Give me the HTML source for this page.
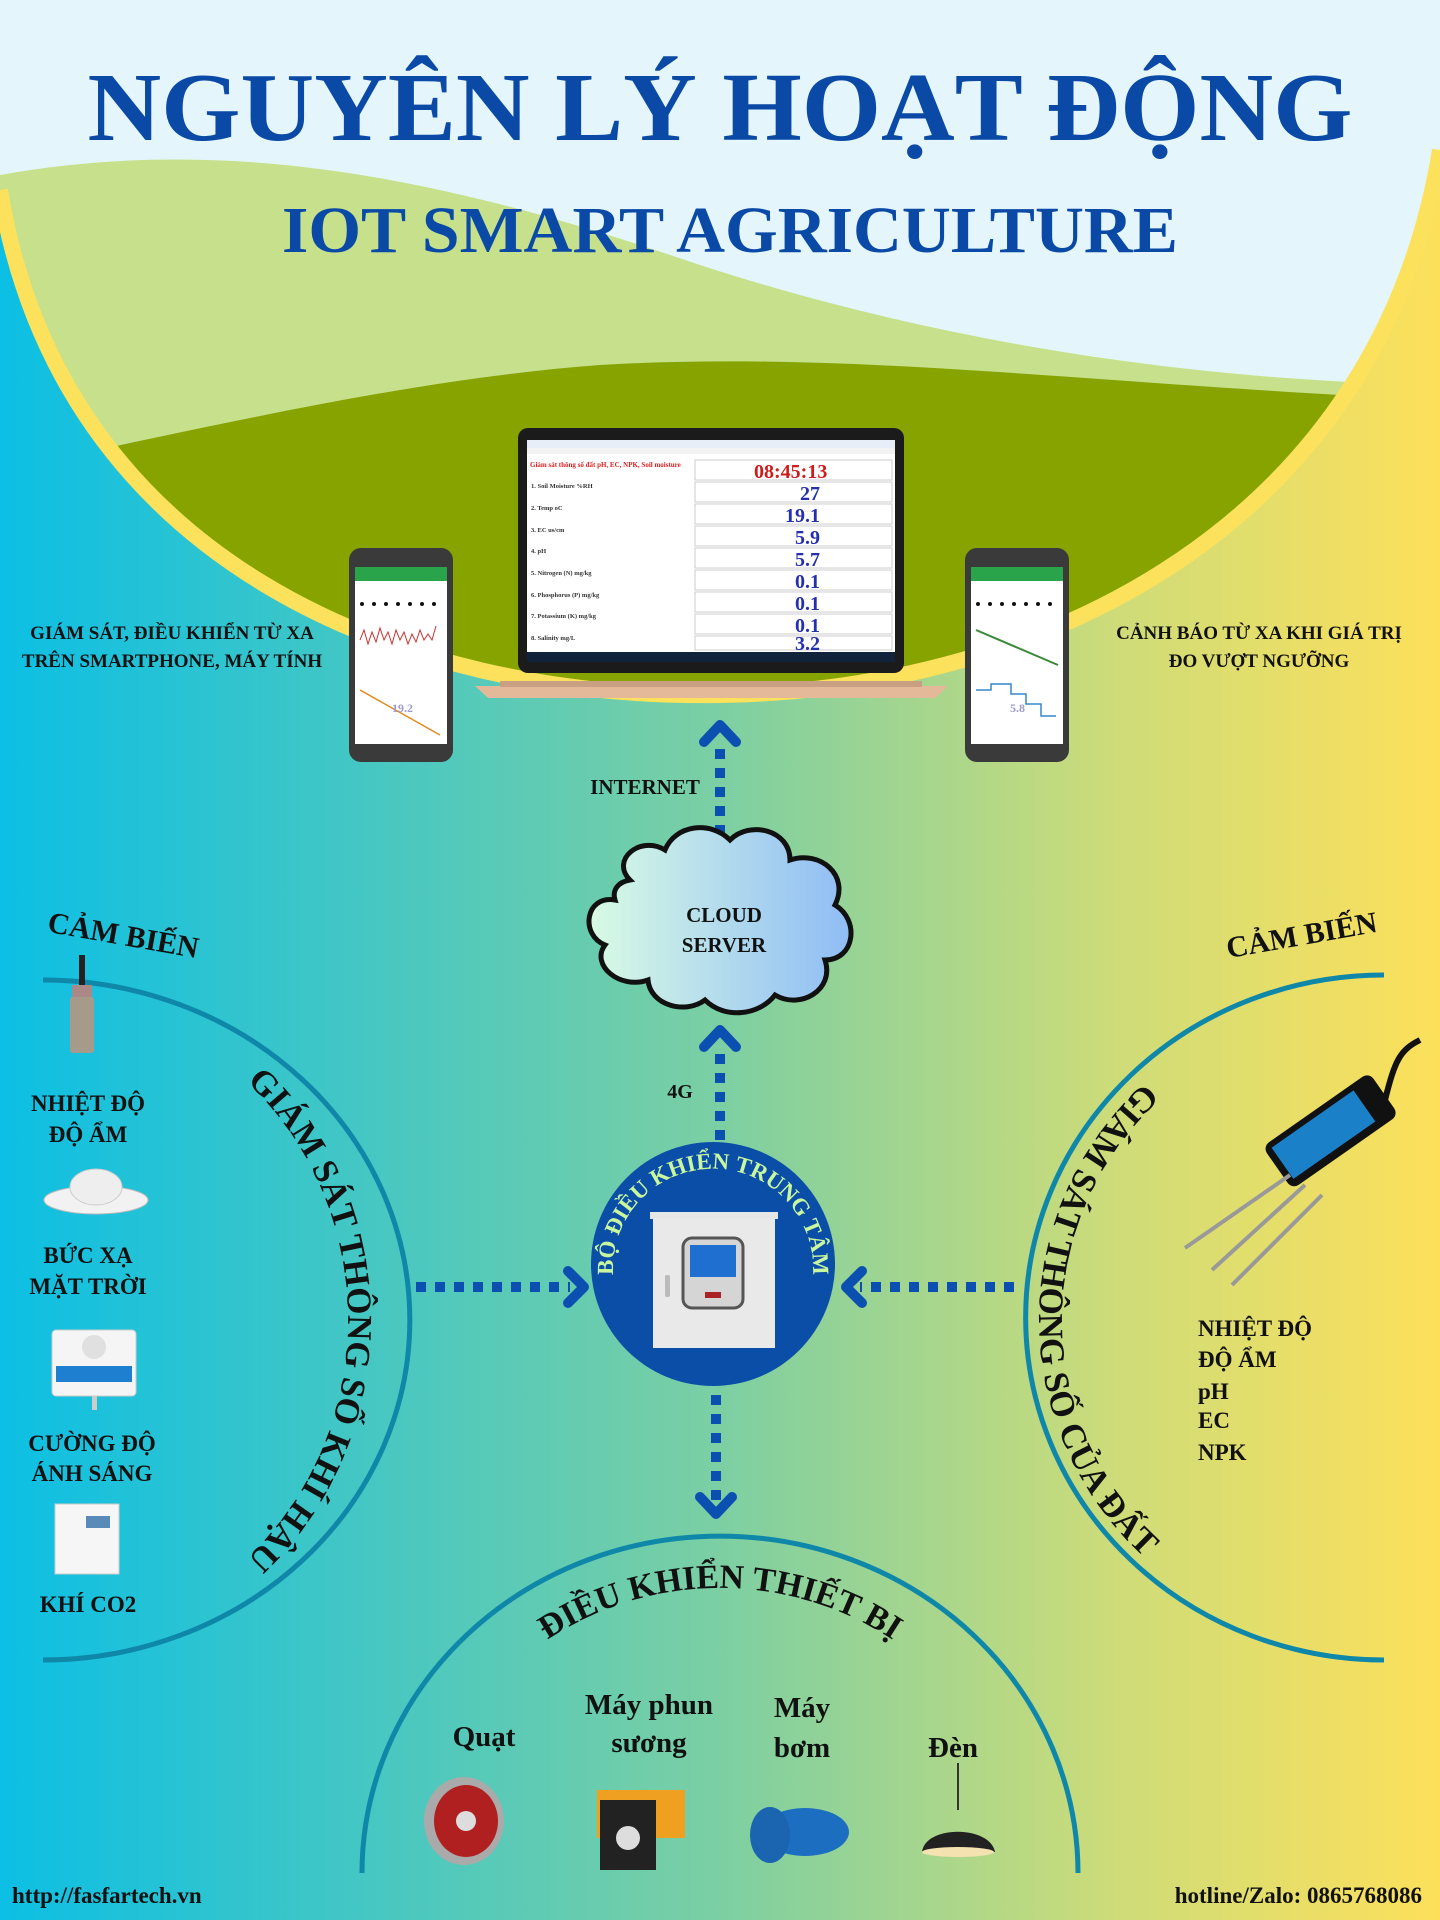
<!DOCTYPE html>
<html><head><meta charset="utf-8"><style>
html,body{margin:0;padding:0;width:1440px;height:1920px;overflow:hidden}
svg{display:block}
text{font-family:"Liberation Serif",serif;font-weight:bold}
</style></head><body>
<svg width="1440" height="1920" viewBox="0 0 1440 1920" xmlns="http://www.w3.org/2000/svg">
<defs>
<linearGradient id="bg" x1="0" y1="0" x2="1" y2="0">
<stop offset="0" stop-color="#0cbfe4"/><stop offset="0.5" stop-color="#7ccfa3"/><stop offset="0.78" stop-color="#cfdc78"/><stop offset="1" stop-color="#fde05a"/>
</linearGradient>
<linearGradient id="cl" x1="0" y1="0" x2="1" y2="0">
<stop offset="0" stop-color="#d8fbe4"/><stop offset="1" stop-color="#8fbcf5"/>
</linearGradient>
<clipPath id="sky"><path d="M0,0 H1440 V150 C1380,520 1050,690 720,695 C400,700 60,560 0,190 Z"/></clipPath>
</defs>
<rect width="1440" height="1920" fill="url(#bg)"/>
<g clip-path="url(#sky)">
<rect width="1440" height="720" fill="#e4f6fb"/>
<path d="M0,175 C250,130 480,190 700,265 C900,330 1150,380 1440,385 V720 H0Z" fill="#c6e08b"/>
<path d="M0,470 C200,430 400,380 600,365 C850,350 1100,385 1440,400 V720 H0Z" fill="#86a300"/>
</g>
<path d="M1440,150 C1380,520 1050,690 720,695 C400,700 60,560 0,190" fill="none" stroke="#fbe15c" stroke-width="16"/>

<text x="720" y="140" text-anchor="middle" font-size="98" fill="#0a4aa6" textLength="1265" lengthAdjust="spacingAndGlyphs">NGUYÊN LÝ HOẠT ĐỘNG</text>
<text x="730" y="252" text-anchor="middle" font-size="66" fill="#0a4aa6" textLength="896" lengthAdjust="spacingAndGlyphs">IOT SMART AGRICULTURE</text>

<!-- laptop -->
<rect x="518" y="428" width="386" height="245" rx="10" fill="#1b1b1b"/>
<rect x="527" y="440" width="368" height="222" fill="#fff"/>
<rect x="527" y="440" width="368" height="8" fill="#e8eef7"/>
<rect x="527" y="448" width="368" height="6" fill="#f2f2f2"/>
<rect x="527" y="652" width="368" height="10" fill="#10233a"/>
<text x="530" y="467" font-size="7" fill="#d22" font-family="Liberation Sans" font-weight="normal">Giám sát thông số đất pH, EC, NPK, Soil moisture</text>
<g font-family="Liberation Sans" font-weight="normal" font-size="6.5" fill="#333">
<text x="531" y="488">1. Soil Moisture %RH</text><text x="531" y="510">2. Temp  oC</text><text x="531" y="532">3. EC us/cm</text><text x="531" y="553">4. pH</text><text x="531" y="575">5. Nitrogen (N) mg/kg</text><text x="531" y="597">6. Phosphorus (P) mg/kg</text><text x="531" y="618">7. Potassium (K) mg/kg</text><text x="531" y="640">8. Salinity mg/L</text>
</g>
<g fill="none" stroke="#ccc"><rect x="695" y="460" width="197" height="20"/><rect x="695" y="482" width="197" height="20"/><rect x="695" y="504" width="197" height="20"/><rect x="695" y="526" width="197" height="20"/><rect x="695" y="548" width="197" height="20"/><rect x="695" y="570" width="197" height="20"/><rect x="695" y="592" width="197" height="20"/><rect x="695" y="614" width="197" height="20"/><rect x="695" y="636" width="197" height="14"/></g>
<g font-family="Liberation Mono" font-weight="normal" font-size="20">
<text x="754" y="478" fill="#d01c1c">08:45:13</text>
<g fill="#2430b0" text-anchor="end"><text x="820" y="500">27</text><text x="820" y="522">19.1</text><text x="820" y="544">5.9</text><text x="820" y="566">5.7</text><text x="820" y="588">0.1</text><text x="820" y="610">0.1</text><text x="820" y="632">0.1</text><text x="820" y="650">3.2</text></g>
</g>
<path d="M475,686 H948 L935,698 H488 Z" fill="#e4b999"/>
<rect x="500" y="681" width="422" height="6" fill="#caa083"/>

<!-- phones -->
<g>
<rect x="349" y="548" width="104" height="214" rx="12" fill="#3a3a3a"/>
<rect x="355" y="567" width="92" height="177" fill="#fff"/>
<rect x="355" y="567" width="92" height="14" fill="#2aa44a"/>
<g fill="#111"><circle cx="362" cy="604" r="2"/><circle cx="374" cy="604" r="2"/><circle cx="386" cy="604" r="2"/><circle cx="398" cy="604" r="2"/><circle cx="410" cy="604" r="2"/><circle cx="422" cy="604" r="2"/><circle cx="434" cy="604" r="2"/></g>
<path d="M360,640 l4,-10 4,14 4,-12 4,10 4,-14 4,12 4,-8 4,12 4,-14 4,10 4,-8 4,12 4,-10 4,8 4,-12 4,10 4,-6 4,6 4,-14" fill="none" stroke="#c33" stroke-width="1"/>
<path d="M360,690 L440,735" stroke="#e08a20" stroke-width="1.5"/>
<text x="392" y="712" font-size="12" fill="#a09ad0" font-family="Liberation Sans" font-weight="normal">19.2</text>
</g>
<g>
<rect x="965" y="548" width="104" height="214" rx="12" fill="#3a3a3a"/>
<rect x="971" y="567" width="92" height="177" fill="#fff"/>
<rect x="971" y="567" width="92" height="14" fill="#2aa44a"/>
<g fill="#111"><circle cx="978" cy="604" r="2"/><circle cx="990" cy="604" r="2"/><circle cx="1002" cy="604" r="2"/><circle cx="1014" cy="604" r="2"/><circle cx="1026" cy="604" r="2"/><circle cx="1038" cy="604" r="2"/><circle cx="1050" cy="604" r="2"/></g>
<path d="M976,630 L1058,665" stroke="#3a8a3a" stroke-width="2"/>
<path d="M976,690 h15 v-6 h20 v10 h15 v10 h15 v12 h15" fill="none" stroke="#3388cc" stroke-width="1.5"/>
<text x="1010" y="712" font-size="12" fill="#a09ad0" font-family="Liberation Sans" font-weight="normal">5.8</text>
</g>

<g font-size="19" fill="#111" text-anchor="middle">
<text x="172" y="639">GIÁM SÁT, ĐIỀU KHIỂN TỪ XA</text><text x="172" y="667">TRÊN SMARTPHONE, MÁY TÍNH</text>
<text x="1259" y="639">CẢNH BÁO TỪ XA KHI GIÁ TRỊ</text><text x="1259" y="667">ĐO VƯỢT NGƯỠNG</text>
</g>

<!-- arrows -->
<g stroke="#0b4fb0" stroke-width="10" stroke-dasharray="10,9" fill="none">
<line x1="720" y1="835" x2="720" y2="740"/>
<line x1="720" y1="1140" x2="720" y2="1045"/>
<line x1="416" y1="1287" x2="570" y2="1287"/>
<line x1="1014" y1="1287" x2="860" y2="1287"/>
<line x1="716" y1="1395" x2="716" y2="1500"/>
</g>
<g stroke="#0b4fb0" stroke-width="10" fill="none" stroke-linecap="round" stroke-linejoin="round">
<path d="M704,742 L720,725 L736,742"/>
<path d="M704,1047 L720,1030 L736,1047"/>
<path d="M568,1271 L584,1287 L568,1303"/>
<path d="M862,1271 L846,1287 L862,1303"/>
<path d="M700,1497 L716,1514 L732,1497"/>
</g>
<text x="645" y="794" font-size="21" fill="#111" text-anchor="middle">INTERNET</text>
<text x="680" y="1098" font-size="20" fill="#111" text-anchor="middle">4G</text>

<!-- cloud -->
<path d="M630,880 C610,860 640,835 665,850 C675,825 710,820 730,840 C750,820 790,830 790,860 C820,850 850,875 835,905 C860,920 855,960 825,960 C835,990 800,1010 775,995 C760,1015 725,1020 705,1000 C685,1015 650,1005 648,980 C620,990 590,965 605,945 C580,935 585,895 615,900 C612,890 618,882 630,880 Z" fill="url(#cl)" stroke="#111" stroke-width="5"/>
<text x="724" y="922" font-size="21" fill="#111" text-anchor="middle">CLOUD</text>
<text x="724" y="952" font-size="21" fill="#111" text-anchor="middle">SERVER</text>

<!-- controller -->
<circle cx="713" cy="1264" r="122" fill="#0a4ea8"/>
<path id="ctp" d="M618,1300 A100,100 0 1 1 808,1300" fill="none"/>
<text font-size="23" fill="#c9f79f"><textPath href="#ctp" startOffset="50%" text-anchor="middle">BỘ ĐIỀU KHIỂN TRUNG TÂM</textPath></text>
<rect x="650" y="1212" width="128" height="7" fill="#e6e6e6"/>
<rect x="653" y="1218" width="122" height="130" fill="#e9e9e9"/>
<rect x="683" y="1238" width="60" height="70" rx="9" fill="#d5d5d5" stroke="#555" stroke-width="3"/>
<rect x="690" y="1245" width="46" height="32" fill="#1f6fd0"/>
<rect x="705" y="1292" width="16" height="6" fill="#a22"/>
<rect x="665" y="1275" width="5" height="22" rx="2" fill="#bbb"/>

<!-- arcs -->
<g fill="none" stroke="#0f87a8" stroke-width="5">
<path d="M43,980 A367,340 0 0 1 43,1660"/>
<path d="M1384,975 A358,342 0 0 0 1384,1660"/>
<path d="M362,1873 A358,337 0 0 1 1078,1873"/>
</g>
<path id="lp" d="M43,1000 A305,320 0 0 1 43,1640" fill="none"/>
<text font-size="35" fill="#111"><textPath href="#lp" startOffset="50%" text-anchor="middle">GIÁM SÁT THÔNG SỐ KHÍ HẬU</textPath></text>
<path id="rp" d="M1384,990 A345,330 0 0 0 1384,1650" fill="none"/>
<text font-size="35" fill="#111"><textPath href="#rp" startOffset="50%" text-anchor="middle">GIÁM SÁT THÔNG SỐ CỦA ĐẤT</textPath></text>
<path id="bp" d="M420,1873 A300,285 0 0 1 1020,1873" fill="none"/>
<text font-size="34" fill="#111"><textPath href="#bp" startOffset="50%" text-anchor="middle">ĐIỀU KHIỂN THIẾT BỊ</textPath></text>

<text x="123" y="945" font-size="30" fill="#111" text-anchor="middle" transform="rotate(10 123 937)">CẢM BIẾN</text>
<text x="1302" y="945" font-size="30" fill="#111" text-anchor="middle" transform="rotate(-10 1302 937)">CẢM BIẾN</text>

<!-- left sensors -->
<rect x="79" y="955" width="6" height="30" fill="#222"/>
<rect x="72" y="985" width="20" height="12" fill="#a88"/>
<rect x="70" y="997" width="24" height="56" rx="3" fill="#a69a8a"/>
<ellipse cx="96" cy="1200" rx="52" ry="14" fill="#f2f2f2" stroke="#bbb"/>
<ellipse cx="96" cy="1187" rx="26" ry="18" fill="#eee" stroke="#ccc"/>
<rect x="52" y="1330" width="84" height="66" rx="4" fill="#f5f5f5" stroke="#ccc"/>
<circle cx="94" cy="1347" r="12" fill="#e0e0e0"/>
<rect x="56" y="1366" width="76" height="16" fill="#1e7fd0"/>
<rect x="92" y="1396" width="5" height="14" fill="#ccc"/>
<rect x="55" y="1504" width="64" height="70" fill="#f6f6f6" stroke="#ccc"/>
<rect x="86" y="1516" width="24" height="12" fill="#5a8ab8"/>
<g font-size="23" fill="#111" text-anchor="middle">
<text x="88" y="1111">NHIỆT ĐỘ</text><text x="88" y="1142">ĐỘ ẨM</text>
<text x="88" y="1263">BỨC XẠ</text><text x="88" y="1294">MẶT TRỜI</text>
<text x="92" y="1451">CƯỜNG ĐỘ</text><text x="92" y="1481">ÁNH SÁNG</text>
<text x="88" y="1612">KHÍ CO2</text>
</g>

<!-- soil sensor -->
<path d="M1385,1100 C1395,1060 1400,1050 1420,1040" stroke="#111" stroke-width="6" fill="none"/>
<g transform="rotate(-35 1330 1130)">
<rect x="1265" y="1105" width="130" height="52" rx="8" fill="#111"/>
<rect x="1272" y="1111" width="100" height="38" fill="#1a80c8"/>
</g>
<g stroke="#999" stroke-width="4"><line x1="1290" y1="1175" x2="1185" y2="1248"/><line x1="1305" y1="1185" x2="1212" y2="1270"/><line x1="1322" y1="1195" x2="1232" y2="1285"/></g>
<g font-size="23" fill="#111">
<text x="1198" y="1336">NHIỆT ĐỘ</text><text x="1198" y="1367">ĐỘ ẨM</text><text x="1198" y="1399">pH</text><text x="1198" y="1428">EC</text><text x="1198" y="1460">NPK</text>
</g>

<!-- devices -->
<g font-size="29" fill="#111" text-anchor="middle">
<text x="484" y="1746">Quạt</text>
<text x="649" y="1714">Máy phun</text><text x="649" y="1752">sương</text>
<text x="802" y="1717">Máy</text><text x="802" y="1757">bơm</text>
<text x="953" y="1757">Đèn</text>
</g>
<ellipse cx="464" cy="1821" rx="40" ry="44" fill="#aaa"/>
<ellipse cx="466" cy="1821" rx="32" ry="36" fill="#b02020"/>
<ellipse cx="466" cy="1821" rx="10" ry="10" fill="#ddd"/>
<rect x="597" y="1790" width="88" height="48" fill="#f0a020"/>
<rect x="600" y="1800" width="56" height="70" fill="#222"/>
<circle cx="628" cy="1838" r="12" fill="#ddd"/>
<ellipse cx="805" cy="1832" rx="44" ry="24" fill="#1c6fc0"/>
<ellipse cx="770" cy="1835" rx="20" ry="28" fill="#1a64b0"/>
<line x1="958" y1="1763" x2="958" y2="1810" stroke="#333" stroke-width="2"/>
<path d="M922,1852 C925,1825 990,1825 995,1852 Z" fill="#222"/>
<ellipse cx="958" cy="1852" rx="36" ry="5" fill="#f4e2b0"/>

<text x="12" y="1903" font-size="23" fill="#111">http://fasfartech.vn</text>
<text x="1422" y="1903" font-size="23" fill="#111" text-anchor="end">hotline/Zalo: 0865768086</text>
</svg>
</body></html>
